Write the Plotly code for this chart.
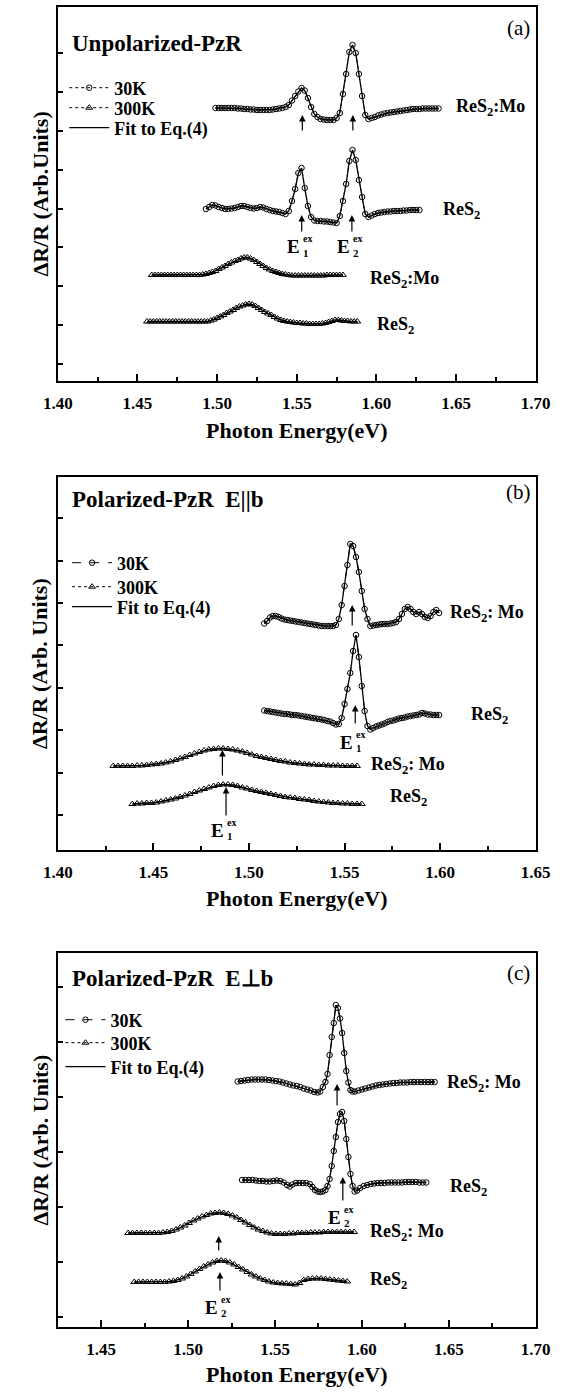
import plotly.graph_objects as go

# ---------------- data (photon energy in eV, dR/R in arbitrary units) ----------------
# Panel (a) unpolarized
a_mo30_x = [1.499, 1.501, 1.503, 1.505, 1.507, 1.509, 1.511, 1.513, 1.515, 1.517, 1.519, 1.521, 1.523, 1.525, 1.527,
            1.529, 1.531, 1.533, 1.535, 1.537, 1.539, 1.541, 1.543, 1.545, 1.547, 1.549, 1.551, 1.553, 1.555, 1.557,
            1.559, 1.561, 1.563, 1.565, 1.567, 1.569, 1.571, 1.573, 1.575, 1.577, 1.579, 1.581, 1.583, 1.585, 1.587,
            1.589, 1.591, 1.593, 1.595, 1.597, 1.599, 1.601, 1.603, 1.605, 1.607, 1.609, 1.611, 1.613, 1.615, 1.617,
            1.619, 1.621, 1.623, 1.625, 1.627, 1.629, 1.631, 1.633, 1.635, 1.637, 1.639]
a_mo30_y = [273, 273, 273, 273, 273, 273, 273, 272.5, 272.5, 272, 272, 271.5, 271.5, 271, 271,
            271, 271, 271, 271.5, 272, 272.5, 273, 274, 276, 280.5, 285, 289.5, 293, 290.5, 283,
            274, 267, 264, 262, 261.5, 261, 261, 261, 263, 268, 287, 307, 329, 336, 328,
            307, 285, 266, 262, 263, 264, 265.5, 266.5, 267.5, 268, 268.5, 269, 269.5, 270, 270.5,
            271, 271.5, 272, 272, 272, 272.5, 272.5, 272.5, 272.5, 272.5, 272.5]
a_res30_x = [1.493, 1.495, 1.497, 1.499, 1.501, 1.503, 1.505, 1.507, 1.509, 1.511, 1.513, 1.515, 1.517, 1.519, 1.521,
             1.523, 1.525, 1.527, 1.529, 1.531, 1.533, 1.535, 1.537, 1.539, 1.541, 1.543, 1.545, 1.547, 1.549, 1.551,
             1.553, 1.555, 1.557, 1.559, 1.561, 1.563, 1.565, 1.567, 1.569, 1.571, 1.573, 1.575, 1.577, 1.579, 1.581,
             1.583, 1.585, 1.587, 1.589, 1.591, 1.593, 1.595, 1.597, 1.599, 1.601, 1.603, 1.605, 1.607, 1.609, 1.611,
             1.613, 1.615, 1.617, 1.619, 1.621, 1.623, 1.625, 1.627]
a_res30_y = [172, 174, 176, 175.5, 174, 173, 172, 172, 172.5, 173, 174, 175, 175, 174, 173,
             172.5, 173, 174, 173.5, 172, 171, 170, 169.5, 169, 168, 167, 170, 180, 192, 208,
             213, 193, 175, 164, 160.5, 160, 160, 159.5, 159.5, 159, 158.5, 158, 165, 180, 197,
             220, 231, 221, 201, 184, 167, 164, 165.5, 167, 168, 168.5, 169, 169.5, 169.5, 170,
             170, 170, 170.5, 170.5, 171, 171, 171, 171]
a_mo300_x = [1.459, 1.461, 1.463, 1.465, 1.467, 1.469, 1.471, 1.473, 1.475, 1.477, 1.479, 1.481, 1.483, 1.485, 1.487,
             1.489, 1.491, 1.493, 1.495, 1.497, 1.499, 1.501, 1.503, 1.505, 1.507, 1.509, 1.511, 1.513, 1.515, 1.517,
             1.519, 1.521, 1.523, 1.525, 1.527, 1.529, 1.531, 1.533, 1.535, 1.537, 1.539, 1.541, 1.543, 1.545, 1.547,
             1.549, 1.551, 1.553, 1.555, 1.557, 1.559, 1.561, 1.563, 1.565, 1.567, 1.569, 1.571, 1.573, 1.575, 1.577,
             1.579]
a_mo300_y = [106, 106, 106, 106, 106, 106, 106, 106, 106, 106, 106, 106, 106, 106, 106,
             106, 106.5, 107, 108, 109, 110, 112, 113.5, 115, 117, 118.5, 120, 121, 122.5, 123.5,
             123.5, 122.5, 121, 119, 117, 115, 113, 111.5, 110, 109, 108, 107, 106.5, 106, 105.5,
             105.5, 105.5, 105.5, 105.5, 105.5, 105.5, 105.5, 105.5, 105.5, 105.5, 106, 106, 106, 106, 106,
             106]
a_res300_x = [1.456, 1.458, 1.460, 1.462, 1.464, 1.466, 1.468, 1.470, 1.472, 1.474, 1.476, 1.478, 1.480, 1.482, 1.484,
              1.486, 1.488, 1.490, 1.492, 1.494, 1.496, 1.498, 1.500, 1.502, 1.504, 1.506, 1.508, 1.510, 1.512, 1.514,
              1.516, 1.518, 1.520, 1.522, 1.524, 1.526, 1.528, 1.530, 1.532, 1.534, 1.536, 1.538, 1.540, 1.542, 1.544,
              1.546, 1.548, 1.550, 1.552, 1.554, 1.556, 1.558, 1.560, 1.562, 1.564, 1.566, 1.568, 1.570, 1.572, 1.574,
              1.576, 1.578, 1.580, 1.582, 1.584, 1.586, 1.588]
a_res300_y = [59.5, 59.5, 59.5, 59.5, 59.5, 59.5, 59.5, 59.5, 59.5, 59.5, 59.5, 59.5, 59.5, 59.5, 59.5,
              59.5, 59.5, 59.5, 59.5, 59.5, 60.5, 61.5, 63, 64.5, 66, 68, 69.5, 71, 73, 74.5,
              75.5, 76.5, 77, 76.5, 75, 73, 71, 69, 67.5, 66, 64, 62.5, 61, 60, 59.5,
              59, 58.5, 58, 58, 57.5, 57.5, 57, 57, 57, 57, 57.5, 58, 59, 60, 61,
              61, 60.5, 60, 60, 59.5, 59.5, 59.5]

# Panel (b) polarized E||b
b_mo30_x = [1.5080, 1.5095, 1.5110, 1.5125, 1.5140, 1.5155, 1.5170, 1.5185, 1.5200, 1.5215, 1.5230, 1.5245, 1.5260,
            1.5275, 1.5290, 1.5305, 1.5320, 1.5335, 1.5350, 1.5365, 1.5380, 1.5395, 1.5410, 1.5425, 1.5440, 1.5455,
            1.5470, 1.5485, 1.5500, 1.5515, 1.5530, 1.5545, 1.5560, 1.5575, 1.5590, 1.5605, 1.5620, 1.5635, 1.5650,
            1.5665, 1.5680, 1.5695, 1.5710, 1.5725, 1.5740, 1.5755, 1.5770, 1.5785, 1.5800, 1.5815, 1.5830, 1.5845,
            1.5860, 1.5875, 1.5890, 1.5905, 1.5920, 1.5935, 1.5950, 1.5965, 1.5980, 1.5995]
b_mo30_y = [226.5, 229, 232.5, 234, 234, 233, 231.5, 230.5, 230, 229.5, 229, 228.5, 228,
            227.5, 227, 226.5, 226, 225.5, 225, 224.5, 224, 224, 224, 224, 224, 225,
            231, 245, 264, 285, 306, 304, 293, 278, 259, 241, 231, 224, 224.5,
            225, 225.5, 226, 226, 226, 226.5, 227, 228, 231, 236, 241, 243, 241,
            238, 236, 238, 236, 233, 232, 234, 238, 240, 237]
b_res30_x = [1.5080, 1.5095, 1.5110, 1.5125, 1.5140, 1.5155, 1.5170, 1.5185, 1.5200, 1.5215, 1.5230, 1.5245, 1.5260,
             1.5275, 1.5290, 1.5305, 1.5320, 1.5335, 1.5350, 1.5365, 1.5380, 1.5395, 1.5410, 1.5425, 1.5440, 1.5455,
             1.5470, 1.5485, 1.5500, 1.5515, 1.5530, 1.5545, 1.5560, 1.5575, 1.5590, 1.5605, 1.5620, 1.5635, 1.5650,
             1.5665, 1.5680, 1.5695, 1.5710, 1.5725, 1.5740, 1.5755, 1.5770, 1.5785, 1.5800, 1.5815, 1.5830, 1.5845,
             1.5860, 1.5875, 1.5890, 1.5905, 1.5920, 1.5935, 1.5950, 1.5965, 1.5980, 1.5995]
b_res30_y = [139.5, 139, 138.5, 138, 137.5, 137, 136.5, 136, 136, 135.5, 135, 135, 134.5,
             134, 133.5, 133, 132.5, 132, 131.5, 131, 130.5, 130, 129, 128.5, 127, 125.5,
             126, 132, 146, 161, 177, 199, 215, 193, 164, 139, 124, 120.5, 122,
             123.5, 124.5, 125.5, 126.5, 128, 129, 129.5, 130.5, 131.5, 132, 132.5, 133.5, 134,
             134.5, 135, 135.5, 137, 136.5, 135.5, 135.5, 135, 135, 135]
b_mo300_x = [1.4290, 1.4315, 1.4340, 1.4365, 1.4390, 1.4415, 1.4440, 1.4465, 1.4490, 1.4515, 1.4540, 1.4565, 1.4590,
             1.4615, 1.4640, 1.4665, 1.4690, 1.4715, 1.4740, 1.4765, 1.4790, 1.4815, 1.4840, 1.4865, 1.4890, 1.4915,
             1.4940, 1.4965, 1.4990, 1.5015, 1.5040, 1.5065, 1.5090, 1.5115, 1.5140, 1.5165, 1.5190, 1.5215, 1.5240,
             1.5265, 1.5290, 1.5315, 1.5340, 1.5365, 1.5390, 1.5415, 1.5440, 1.5465, 1.5490, 1.5515, 1.5540, 1.5565]
b_mo300_y = [84, 84, 84, 84, 84, 84.5, 84.5, 85, 85.5, 86, 86.5, 87.5, 88.5,
             90, 91.5, 93, 95, 96.5, 98, 99.5, 100.5, 101, 101.5, 101.5, 101, 100.5,
             99.5, 98.5, 97, 95.5, 94, 93, 92, 91, 90, 89, 88.5, 87.5, 87,
             86.5, 86, 85.5, 85.5, 85, 85, 84.5, 84.5, 84.5, 84, 84, 84, 84]
b_res300_x = [1.4390, 1.4415, 1.4440, 1.4465, 1.4490, 1.4515, 1.4540, 1.4565, 1.4590, 1.4615, 1.4640, 1.4665, 1.4690,
              1.4715, 1.4740, 1.4765, 1.4790, 1.4815, 1.4840, 1.4865, 1.4890, 1.4915, 1.4940, 1.4965, 1.4990, 1.5015,
              1.5040, 1.5065, 1.5090, 1.5115, 1.5140, 1.5165, 1.5190, 1.5215, 1.5240, 1.5265, 1.5290, 1.5315, 1.5340,
              1.5365, 1.5390, 1.5415, 1.5440, 1.5465, 1.5490, 1.5515, 1.5540, 1.5565, 1.5590]
b_res300_y = [46, 46.5, 46.5, 47, 47, 47.5, 48.5, 49.5, 50.5, 51.5, 53, 54.5, 56,
              58, 59.5, 61, 62.5, 64, 65, 65.5, 65.5, 65, 64, 62.5, 61.5, 60,
              59, 58, 57, 56, 55, 54, 53, 52.5, 52, 51, 50.5, 50, 49,
              48.5, 48, 47.5, 47, 47, 46.5, 46.5, 46, 46, 46]

# Panel (c) polarized E perp b
c_mo30_x = [1.5285, 1.5305, 1.5325, 1.5345, 1.5365, 1.5385, 1.5405, 1.5425, 1.5445, 1.5465, 1.5485, 1.5505, 1.5525,
            1.5545, 1.5565, 1.5585, 1.5605, 1.5625, 1.5645, 1.5665, 1.5685, 1.5705, 1.5725, 1.5745, 1.5760, 1.5775,
            1.5790, 1.5802, 1.5814, 1.5826, 1.5838, 1.5850, 1.5862, 1.5874, 1.5886, 1.5898, 1.5910, 1.5922, 1.5934,
            1.5946, 1.5960, 1.5980, 1.6000, 1.6020, 1.6040, 1.6060, 1.6080, 1.6100, 1.6120, 1.6140, 1.6160, 1.6180,
            1.6200, 1.6220, 1.6240, 1.6260, 1.6280, 1.6300, 1.6320, 1.6340, 1.6360, 1.6380, 1.6400, 1.6418]
c_mo30_y = [245.5, 246, 246.5, 247, 247.5, 247.5, 247.5, 247.5, 247.5, 247, 246.5, 246, 245.5,
            244.5, 243.5, 242.5, 241.5, 241, 240, 238.5, 237.5, 236.5, 235, 234.5, 235.5, 240,
            245, 253, 272, 290, 304, 322, 319, 308.5, 294, 274, 256, 244.5, 237,
            235.5, 235.5, 236.5, 237.5, 238.5, 239.5, 240.5, 241.5, 242, 242.5, 243, 243.5, 244,
            244, 244.5, 244.5, 244.5, 245, 245, 245, 245, 245, 245, 245, 245]
c_res30_x = [1.5310, 1.5330, 1.5350, 1.5370, 1.5390, 1.5410, 1.5430, 1.5450, 1.5470, 1.5490, 1.5510, 1.5530, 1.5550,
             1.5570, 1.5585, 1.5600, 1.5620, 1.5640, 1.5660, 1.5680, 1.5700, 1.5715, 1.5730, 1.5745, 1.5760, 1.5775,
             1.5790, 1.5802, 1.5814, 1.5826, 1.5838, 1.5850, 1.5862, 1.5874, 1.5886, 1.5898, 1.5910, 1.5922, 1.5934,
             1.5946, 1.5958, 1.5972, 1.5990, 1.6010, 1.6030, 1.6050, 1.6070, 1.6090, 1.6110, 1.6130, 1.6150, 1.6170,
             1.6190, 1.6210, 1.6230, 1.6250, 1.6270, 1.6290, 1.6310, 1.6330, 1.6350, 1.6370]
c_res30_y = [147, 147, 147, 147, 146.5, 146, 146, 145.5, 145.5, 146, 146.5, 146, 144.5,
             142, 140.5, 142.5, 144, 144, 144, 144, 143, 140, 137, 135.5, 135, 135.5,
             137, 141, 148, 161, 176, 190, 205, 213, 215, 206, 188, 170, 153,
             141, 135.5, 136.5, 139, 141, 142, 143, 143.5, 144, 144, 144, 144.5, 144.5,
             144.5, 144.5, 144.5, 145, 145, 145, 145, 144.5, 144.5, 144.5]
c_mo300_x = [1.4655, 1.4680, 1.4705, 1.4730, 1.4755, 1.4780, 1.4805, 1.4830, 1.4855, 1.4880, 1.4905, 1.4930, 1.4955,
             1.4980, 1.5005, 1.5030, 1.5055, 1.5080, 1.5105, 1.5130, 1.5155, 1.5180, 1.5205, 1.5230, 1.5255, 1.5280,
             1.5305, 1.5330, 1.5355, 1.5380, 1.5405, 1.5430, 1.5455, 1.5480, 1.5505, 1.5530, 1.5555, 1.5580, 1.5605,
             1.5630, 1.5655, 1.5680, 1.5705, 1.5730, 1.5755, 1.5780, 1.5805, 1.5830, 1.5855, 1.5880, 1.5905, 1.5930,
             1.5955]
c_mo300_y = [94, 94, 94, 94, 94, 94, 94, 94, 94.5, 95, 96, 97.5, 99.5,
             101.5, 104, 106.5, 108.5, 110.5, 112, 113.5, 114, 114.5, 114, 113, 111.5, 109.5,
             107, 104.5, 102, 99.5, 97.5, 96, 94.5, 93.5, 93, 93, 93, 93.5, 93.5,
             94, 94, 94, 94.5, 94.5, 94.5, 95, 95, 95, 95, 95, 95, 95,
             95]
c_res300_x = [1.4690, 1.4715, 1.4740, 1.4765, 1.4790, 1.4815, 1.4840, 1.4865, 1.4890, 1.4915, 1.4940, 1.4965, 1.4990,
              1.5015, 1.5040, 1.5065, 1.5090, 1.5115, 1.5140, 1.5165, 1.5190, 1.5215, 1.5240, 1.5265, 1.5290, 1.5315,
              1.5340, 1.5365, 1.5390, 1.5415, 1.5440, 1.5465, 1.5490, 1.5515, 1.5540, 1.5565, 1.5590, 1.5615, 1.5640,
              1.5665, 1.5690, 1.5715, 1.5740, 1.5765, 1.5790, 1.5815, 1.5840, 1.5865, 1.5890, 1.5915]
c_res300_y = [45, 45, 45, 45, 45, 45, 45, 45, 45.5, 46, 47, 48.5, 50.5,
              53, 55.5, 58, 60.5, 62.5, 64.5, 66, 66.5, 66, 64.5, 62.5, 60, 57.5,
              55, 52.5, 50.5, 48.5, 47, 45.5, 44.5, 44, 43.5, 43.5, 43, 42.5, 44,
              47, 48, 48.5, 48.5, 48.5, 48, 47.5, 47, 46.5, 46, 45.5]

# Transition arrows: energy, head level, tail level
a_arrow_x = [1.5535, 1.5852, 1.5531, 1.5846]
a_arrow_head = [266, 266, 166, 166]
a_arrow_tail = [249, 249, 148, 148]
b_arrow_x = [1.5540, 1.5556, 1.4861, 1.4880]
b_arrow_head = [245, 145, 100, 63]
b_arrow_tail = [223, 125, 73, 33]
c_arrow_x = [1.5857, 1.5890, 1.5176, 1.5183]
c_arrow_head = [243, 150, 91, 55]
c_arrow_tail = [220, 125, 75, 35]

# Exciton labels: energy, level, index
a_elab = [(1.5531, 134, "1"), (1.5846, 134, "2")]
b_elab = [(1.5556, 108, "1"), (1.4880, 20, "1")]
c_elab = [(1.5890, 110, "2"), (1.5183, 20, "2")]

# Sample labels
a_samples = [("ReS<sub>2</sub>:Mo", 1.6484, 273), ("ReS<sub>2</sub>", 1.6406, 170),
             ("ReS<sub>2</sub>:Mo", 1.5946, 102), ("ReS<sub>2</sub>", 1.5989, 56)]
b_samples = [("ReS<sub>2</sub>: Mo", 1.6042, 237), ("ReS<sub>2</sub>", 1.6149, 135),
             ("ReS<sub>2</sub>: Mo", 1.5629, 85), ("ReS<sub>2</sub>", 1.5728, 53)]
c_samples = [("ReS<sub>2</sub>: Mo", 1.6478, 244), ("ReS<sub>2</sub>", 1.6497, 140),
             ("ReS<sub>2</sub>: Mo", 1.6034, 95), ("ReS<sub>2</sub>", 1.6034, 47)]

x_ranges = [[1.3999, 1.7001], [1.3999, 1.6501], [1.4249, 1.7001]]
y_tickvals = [[17, 56, 95, 134, 172, 211, 250, 289, 328],
              [35, 77, 120, 162, 205, 247, 289, 332],
              [10, 65, 120, 175, 230, 285, 340]]
panel_titles = ["Unpolarized-PzR", "Polarized-PzR&nbsp; E||b", "Polarized-PzR&nbsp; E\u22a5b"]
panel_tags = ["(a)", "(b)", "(c)"]
y_titles = ["\u0394R/R (Arb.Units)", "\u0394R/R (Arb. Units)", "\u0394R/R (Arb. Units)"]
legend_names = ["30K", "300K", "Fit to Eq.(4)"]

# ---------------- layout geometry (pixels in a 567 x 1394 page) ----------------
W, H = 567, 1394
SERIF = "Liberation Serif"
PX_L, PX_R = 45, 550
panel_px = [(7, 381), (477, 850), (953, 1327)]
title_py = [43, 500, 978]
tag_py = [28, 492, 973]
xtitle_py = [430, 898, 1374]
legend_left = [52, 55, 48]
legend_rows = [[88, 108, 128], [563, 587, 607], [1020, 1043, 1067]]
dash30 = ["dot", "dash", "dash"]


def px2py(p):
    return 1 - p / H


fig = go.Figure()

panels = [
    dict(mo30=(a_mo30_x, a_mo30_y), res30=(a_res30_x, a_res30_y), mo300=(a_mo300_x, a_mo300_y),
         res300=(a_res300_x, a_res300_y), arrows=(a_arrow_x, a_arrow_head, a_arrow_tail), elab=a_elab,
         samples=a_samples),
    dict(mo30=(b_mo30_x, b_mo30_y), res30=(b_res30_x, b_res30_y), mo300=(b_mo300_x, b_mo300_y),
         res300=(b_res300_x, b_res300_y), arrows=(b_arrow_x, b_arrow_head, b_arrow_tail), elab=b_elab,
         samples=b_samples),
    dict(mo30=(c_mo30_x, c_mo30_y), res30=(c_res30_x, c_res30_y), mo300=(c_mo300_x, c_mo300_y),
         res300=(c_res300_x, c_res300_y), arrows=(c_arrow_x, c_arrow_head, c_arrow_tail), elab=c_elab,
         samples=c_samples),
]

LFONT = dict(family=SERIF, size=18, color="black", weight="bold")
annotations = []
layout = {}
for i, p in enumerate(panels):
    n = "" if i == 0 else str(i + 1)
    xa, ya = "x" + n, "y" + n
    legs = []
    for r in range(3):
        li = 3 * i + r + 1
        legs.append("legend" if li == 1 else "legend%d" % li)

    for k, key in enumerate(["mo30", "res30"]):
        xs, ys = p[key]
        fig.add_trace(go.Scatter(x=xs, y=ys, mode="lines+markers", name=legend_names[0], legend=legs[0],
                                 showlegend=(k == 0), xaxis=xa, yaxis=ya,
                                 line=dict(color="black", width=1, dash=dash30[i]),
                                 marker=dict(symbol="circle-open", size=5.5, color="black",
                                             line=dict(width=1, color="black"))))
    for k, key in enumerate(["mo300", "res300"]):
        xs, ys = p[key]
        fig.add_trace(go.Scatter(x=xs, y=ys, mode="lines+markers", name=legend_names[1], legend=legs[1],
                                 showlegend=(k == 0), xaxis=xa, yaxis=ya,
                                 line=dict(color="black", width=1, dash="dot"),
                                 marker=dict(symbol="triangle-up-open", size=6, color="black",
                                             line=dict(width=1, color="black"))))
    for k, key in enumerate(["mo30", "res30", "mo300", "res300"]):
        xs, ys = p[key]
        fig.add_trace(go.Scatter(x=xs, y=ys, mode="lines", name=legend_names[2], legend=legs[2],
                                 showlegend=(k == 0), xaxis=xa, yaxis=ya,
                                 line=dict(color="black", width=1.3)))

    top, bot = panel_px[i]
    layout["xaxis" + n] = dict(
        domain=[PX_L / W, PX_R / W], anchor=ya, range=x_ranges[i],
        tickmode="linear", tick0=1.40, dtick=0.05, tickformat=".2f",
        ticks="inside", ticklen=7, tickwidth=1.5, tickcolor="black",
        showline=True, linewidth=2, linecolor="black", mirror=True,
        showgrid=False, zeroline=False, ticklabelstandoff=6,
        tickfont=dict(family=SERIF, size=17, color="black", weight="bold"),
        minor=dict(tick0=1.40, dtick=0.025, ticks="inside", ticklen=4, tickwidth=1.5,
                   tickcolor="black", showgrid=False))
    layout["yaxis" + n] = dict(
        domain=[px2py(bot), px2py(top)], anchor=xa, range=[0, bot - top],
        tickmode="array", tickvals=y_tickvals[i], ticks="inside", ticklen=5, tickwidth=1.5,
        tickcolor="black", showticklabels=False, showline=True, linewidth=2,
        linecolor="black", mirror=True, showgrid=False, zeroline=False)
    for r in range(3):
        layout[legs[r]] = dict(x=legend_left[i] / W, y=px2py(legend_rows[i][r]), xanchor="left",
                               yanchor="middle", bgcolor="rgba(0,0,0,0)", borderwidth=0,
                               itemwidth=40, tracegroupgap=0, font=LFONT)

    # arrows
    axs, heads, tails = p["arrows"]
    for ex, hy, ty in zip(axs, heads, tails):
        annotations.append(dict(x=ex, y=hy, ax=ex, ay=ty, xref=xa, yref=ya, axref=xa, ayref=ya,
                                text="", showarrow=True, arrowhead=2, arrowsize=1.1,
                                arrowwidth=1.2, arrowcolor="black"))
    # exciton labels
    for ex, ly_, idx in p["elab"]:
        annotations.append(dict(x=ex, y=ly_, xref=xa, yref=ya, text="E", showarrow=False,
                                xanchor="right", yanchor="middle", xshift=0,
                                font=dict(family=SERIF, size=19, color="black", weight="bold")))
        annotations.append(dict(x=ex, y=ly_, xref=xa, yref=ya, text=idx, showarrow=False,
                                xanchor="left", yanchor="middle", xshift=-1, yshift=-6,
                                font=dict(family=SERIF, size=11, color="black", weight="bold")))
        annotations.append(dict(x=ex, y=ly_, xref=xa, yref=ya, text="ex", showarrow=False,
                                xanchor="left", yanchor="middle", xshift=-1, yshift=8,
                                font=dict(family=SERIF, size=10, color="black", weight="bold")))
    # sample labels
    for txt, sx, sy in p["samples"]:
        annotations.append(dict(x=sx, y=sy, xref=xa, yref=ya, text=txt, showarrow=False,
                                xanchor="left", yanchor="middle",
                                font=dict(family=SERIF, size=18, color="black", weight="bold")))
    # panel title and tag
    annotations.append(dict(x=58 / W, y=px2py(title_py[i]), xref="paper", yref="paper",
                            text=panel_titles[i], showarrow=False, xanchor="left", yanchor="middle",
                            font=dict(family=SERIF, size=23, color="black", weight="bold")))
    annotations.append(dict(x=532 / W, y=px2py(tag_py[i]), xref="paper", yref="paper",
                            text=panel_tags[i], showarrow=False, xanchor="center", yanchor="middle",
                            font=dict(family=SERIF, size=21, color="black")))
    # axis titles
    annotations.append(dict(x=(PX_L + PX_R) / 2 / W, y=px2py(xtitle_py[i]), xref="paper", yref="paper",
                            text="Photon Energy(eV)", showarrow=False, xanchor="center",
                            yanchor="middle",
                            font=dict(family=SERIF, size=22, color="black", weight="bold")))
    annotations.append(dict(x=26 / W, y=px2py((top + bot) / 2), xref="paper", yref="paper",
                            text=y_titles[i], showarrow=False, textangle=-90,
                            xanchor="center", yanchor="middle",
                            font=dict(family=SERIF, size=22, color="black", weight="bold")))

fig.update_layout(width=W, height=H, margin=dict(l=0, r=0, t=0, b=0), autosize=False,
                  paper_bgcolor="white", plot_bgcolor="white", showlegend=True,
                  font=dict(family=SERIF, color="black"), annotations=annotations, **layout)

fig.write_html("out.html")
